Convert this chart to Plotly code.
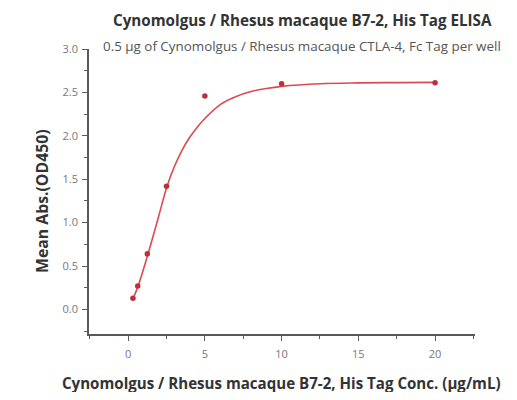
import plotly.graph_objects as go

# measured data points
conc = [0.3125, 0.625, 1.25, 2.5, 5, 10, 20]
od450 = [0.13, 0.27, 0.64, 1.42, 2.46, 2.60, 2.61]

# fitted curve
curve_x = [0.3, 0.67, 1.28, 2.0, 2.5, 3.0, 3.5, 4.0, 4.5, 5.0, 6.0, 7.0, 8.0, 9.0, 10.0, 12.5, 15, 17.5, 20]
curve_y = [0.115, 0.28, 0.63, 1.08, 1.40, 1.64, 1.83, 1.98, 2.10, 2.20, 2.36, 2.45, 2.51, 2.545, 2.57, 2.60, 2.61, 2.613, 2.615]

x_ticks = [0, 5, 10, 15, 20]
y_ticks = [0.0, 0.5, 1.0, 1.5, 2.0, 2.5, 3.0]

title = "Cynomolgus / Rhesus macaque B7-2, His Tag ELISA"
subtitle = "0.5 μg of Cynomolgus / Rhesus macaque CTLA-4, Fc Tag per well"
x_title = "Cynomolgus / Rhesus macaque B7-2, His Tag Conc. (μg/mL)"
y_title = "Mean Abs.(OD450)"

FONT = "Open Sans"
AX = "#5a5a5a"

fig = go.Figure()
fig.add_trace(go.Scatter(x=curve_x, y=curve_y, mode="lines",
                         line=dict(color="#dc4a50", width=1.6, shape="spline", smoothing=1.0),
                         hoverinfo="skip", showlegend=False))
fig.add_trace(go.Scatter(x=conc, y=od450, mode="markers",
                         marker=dict(color="#b8323a", size=5.5),
                         showlegend=False))

# page body has an 8px margin; figure coords = screen coords - 8
W, H = 501, 384
L, R, T, B = 81, 34, 41, 58
pw, ph = W - L - R, H - T - B

def px(x):
    return (x - L) / pw

def py(y):
    return (H - B - y) / ph

fig.add_annotation(text="<b>" + title + "</b>", xref="paper", yref="paper",
                   x=px(294), y=py(12), xanchor="center", yanchor="middle",
                   showarrow=False, font=dict(family=FONT, size=15.2, color="#333333"))
fig.add_annotation(text=subtitle, xref="paper", yref="paper",
                   x=px(294), y=py(38), xanchor="center", yanchor="middle",
                   showarrow=False, font=dict(family=FONT, size=13.4, color="#555555"))
fig.add_annotation(text="<b>" + x_title + "</b>", xref="paper", yref="paper",
                   x=px(273), y=py(375), xanchor="center", yanchor="middle",
                   showarrow=False, font=dict(family=FONT, size=15.1, color="#333333"))
fig.add_annotation(text="<b>" + y_title + "</b>", xref="paper", yref="paper",
                   x=px(34), y=py(193), xanchor="center", yanchor="middle", textangle=-90,
                   showarrow=False, font=dict(family=FONT, size=15.8, color="#333333"))

fig.update_layout(
    width=W, height=H,
    margin=dict(l=L, r=R, t=T, b=B),
    paper_bgcolor="white",
    plot_bgcolor="white",
    font=dict(family=FONT, color=AX),
)
fig.update_xaxes(
    range=[-2.55, 22.6], tickvals=x_ticks, ticktext=[str(v) for v in x_ticks],
    showgrid=False, zeroline=False, showline=True, linecolor=AX, linewidth=1.5,
    ticks="outside", ticklen=5, tickwidth=1.2, tickcolor=AX,
    minor=dict(dtick=2.5, tick0=0, ticks="outside", ticklen=3, tickcolor=AX, tickwidth=1.2, showgrid=False),
    tickfont=dict(family=FONT, size=11, color="#777777"),
    ticklabelstandoff=4,
)
fig.update_yaxes(
    range=[-0.283, 3.0], tickvals=y_ticks, ticktext=[f"{v:.1f}" for v in y_ticks],
    showgrid=False, zeroline=False, showline=True, linecolor=AX, linewidth=1.5,
    ticks="outside", ticklen=5, tickwidth=1.2, tickcolor=AX,
    minor=dict(dtick=0.25, tick0=0, ticks="outside", ticklen=3, tickcolor=AX, tickwidth=1.2, showgrid=False),
    tickfont=dict(family=FONT, size=11, color="#777777"),
    ticklabelstandoff=2,
)

fig.write_html("out.html")
